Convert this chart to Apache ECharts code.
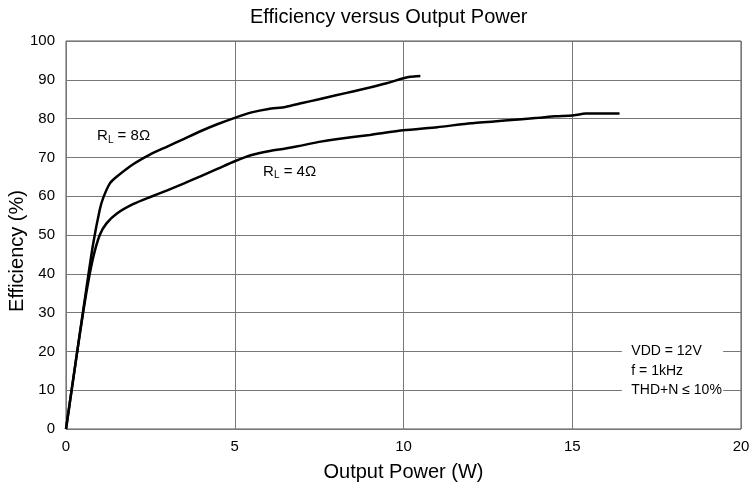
<!DOCTYPE html>
<html>
<head>
<meta charset="utf-8">
<script src="https://cdn.jsdelivr.net/npm/echarts@6/dist/echarts.min.js"></script>
<style>
  html, body { margin: 0; padding: 0; background: #fff; }
  #chart { width: 753px; height: 491px; }
</style>
</head>
<body>
<div id="chart"></div>
<script>
// output power (W) vs efficiency (%)
const power8 = [0, 0.2, 0.4, 0.6, 0.8, 1.0, 1.1, 1.3, 1.5, 2, 2.5, 3, 3.5, 4, 4.5, 5, 5.5, 6, 6.5, 7, 7.5, 8, 8.5, 9, 9.5, 10, 10.2, 10.5]
const eff8 = [0, 12, 24, 36, 47.5, 56.5, 59.5, 63.3, 65, 68.3, 70.8, 72.8, 74.8, 76.8, 78.6, 80.2, 81.6, 82.5, 83, 84, 85, 86, 87, 88, 89.1, 90.4, 90.8, 91]

const power4 = [0, 0.2, 0.4, 0.6, 0.8, 1.0, 1.2, 1.5, 2, 2.5, 3, 3.5, 4, 4.5, 5, 5.5, 6, 6.5, 7, 7.5, 8, 9, 10, 11, 12, 13, 14, 14.5, 15, 15.4, 16, 16.4]
const eff4 = [0, 12, 24, 35, 44, 50, 53, 55.5, 58, 59.8, 61.5, 63.3, 65.2, 67.1, 69, 70.6, 71.6, 72.3, 73.1, 74, 74.7, 75.8, 77, 77.8, 78.8, 79.5, 80.2, 80.6, 80.8, 81.3, 81.3, 81.3]

const xTicks = [0, 5, 10, 15, 20]
const yTicks = [0, 10, 20, 30, 40, 50, 60, 70, 80, 90, 100]

const noteLines = ['VDD = 12V', 'f = 1kHz', 'THD+N \u2264 10%']

const font = 'Liberation Sans, Arial, sans-serif'

const chart = echarts.init(document.getElementById('chart'))

function pairs(xs, ys) {
  return xs.map((x, i) => [x, ys[i]])
}

chart.setOption({
  animation: false,
  title: {
    text: 'Efficiency versus Output Power',
    left: 245,
    top: 2,
    textStyle: { fontFamily: font, fontSize: 20, fontWeight: 'normal', color: '#000' }
  },
  grid: {
    left: 66, right: 12, top: 41, bottom: 62,
    outerBoundsMode: 'none',
    show: true, borderColor: '#555', borderWidth: 1
  },
  xAxis: {
    type: 'value',
    min: xTicks[0],
    max: xTicks[xTicks.length - 1],
    interval: 5,
    name: 'Output Power (W)',
    nameLocation: 'middle',
    nameGap: 33,
    nameTextStyle: { fontFamily: font, fontSize: 20, color: '#000' },
    axisLine: { show: false },
    axisTick: { show: false },
    axisLabel: { fontFamily: font, fontSize: 15, color: '#000', margin: 10 },
    splitLine: { lineStyle: { color: '#777', width: 1 } }
  },
  yAxis: {
    type: 'value',
    min: yTicks[0],
    max: yTicks[yTicks.length - 1],
    interval: 10,
    axisLine: { show: false },
    axisTick: { show: false },
    axisLabel: { fontFamily: font, fontSize: 15, color: '#000', margin: 11 },
    splitLine: { lineStyle: { color: '#777', width: 1 } }
  },
  series: [
    {
      name: '8 ohm',
      type: 'line',
      data: pairs(power8, eff8),
      showSymbol: false,
      smooth: 0.2,
      lineStyle: { color: '#000', width: 2.5 }
    },
    {
      name: '4 ohm',
      type: 'line',
      data: pairs(power4, eff4),
      showSymbol: false,
      smooth: 0.2,
      lineStyle: { color: '#000', width: 2.5 }
    }
  ]
})

const rl = {
  base: { fontFamily: font, fontSize: 15, color: '#000' },
  sub: { fontFamily: font, fontSize: 10, color: '#000', verticalAlign: 'bottom', padding: [8, 0, 0, 0] }
}
const toPx = v => chart.convertToPixel({ gridIndex: 0 }, v)
const p8 = toPx([0.92, 75.5])
const p4 = toPx([5.84, 66.4])
const noteY = [20, 15, 10].map(v => toPx([16.75, v]))
const boxL = toPx([16.47, 22])
const boxR = toPx([19.47, 8])

chart.setOption({
  graphic: [
    {
      type: 'text', x: 17.5, y: 251, rotation: Math.PI / 2,
      style: { text: 'Efficiency (%)', fontFamily: font, fontSize: 20, fill: '#000', align: 'center', verticalAlign: 'middle' }
    },
    {
      type: 'text', x: p8[0], y: p8[1],
      style: { text: '{base|R}{sub|L}{base| = 8\u03a9}', rich: rl, verticalAlign: 'middle' }
    },
    {
      type: 'text', x: p4[0], y: p4[1],
      style: { text: '{base|R}{sub|L}{base| = 4\u03a9}', rich: rl, verticalAlign: 'middle' }
    },
    {
      type: 'rect',
      shape: { x: boxL[0], y: boxL[1], width: boxR[0] - boxL[0], height: boxR[1] - boxL[1] },
      style: { fill: '#fff' }
    }
  ].concat(noteLines.map((t, i) => ({
    type: 'text', x: noteY[i][0], y: noteY[i][1],
    style: { text: t, fontFamily: font, fontSize: 14, fill: '#000', verticalAlign: 'middle' }
  })))
})
</script>
</body>
</html>
